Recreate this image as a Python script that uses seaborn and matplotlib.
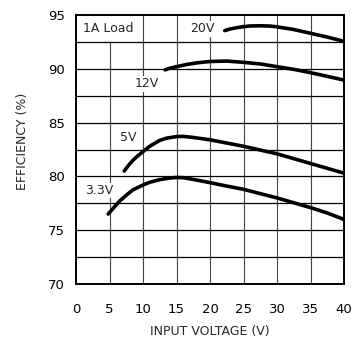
import matplotlib
matplotlib.use("Agg")
import matplotlib.pyplot as plt
import seaborn as sns
import pandas as pd

# curve data (input voltage V, efficiency %)
v33_x = [4.8, 5.5, 6.5, 7.5, 8.5, 10, 11, 12.5, 14, 15, 16, 17.5, 20,
         22.5, 25, 27.5, 30, 32.5, 35, 37.5, 40]
v33_y = [76.5, 77.0, 77.7, 78.25, 78.75, 79.2, 79.45, 79.7, 79.85, 79.9,
         79.88, 79.72, 79.42, 79.1, 78.8, 78.4, 78.0, 77.55, 77.1, 76.6, 76.0]

v5_x = [7.2, 7.8, 8.5, 9.2, 10, 11, 12.5, 13.5, 15, 16, 17.5, 20, 22.5,
        25, 27.5, 30, 32.5, 35, 37.5, 40]
v5_y = [80.5, 81.0, 81.5, 81.9, 82.3, 82.8, 83.35, 83.55, 83.7, 83.72,
        83.62, 83.4, 83.1, 82.8, 82.45, 82.1, 81.65, 81.2, 80.75, 80.3]

v12_x = [13.3, 14, 15, 16.5, 18, 20, 22.5, 25, 27.5, 30, 32.5, 35, 37.5, 40]
v12_y = [89.9, 90.05, 90.2, 90.4, 90.55, 90.68, 90.72, 90.6, 90.45, 90.2,
         89.95, 89.64, 89.3, 88.95]

v20_x = [22.2, 23, 24, 25, 26, 27.5, 29, 30, 32.5, 35, 37.5, 40]
v20_y = [93.55, 93.7, 93.82, 93.92, 93.98, 94.0, 93.97, 93.9, 93.65, 93.3,
         92.95, 92.55]

series = ["3.3V", "5V", "12V", "20V"]
xs = [v33_x, v5_x, v12_x, v20_x]
ys = [v33_y, v5_y, v12_y, v20_y]

x_ticks = [0, 5, 10, 15, 20, 25, 30, 35, 40]
y_ticks = [70, 75, 80, 85, 90, 95]

rows = []
for name, sx, sy in zip(series, xs, ys):
    for a, b in zip(sx, sy):
        rows.append({"vin": a, "eff": b, "series": name})
df = pd.DataFrame(rows)

sns.set_style("white")
plt.rcParams["font.family"] = ["DejaVu Sans"]

fig = plt.figure(figsize=(3.6, 3.38), dpi=100)
ax = fig.add_axes([76 / 360, 54 / 338, 268 / 360, 269 / 338])

# grid: vertical lines every 5 V, horizontal every 2.5 %
for gx in range(5, 40, 5):
    top = 92.5 if gx == 5 else 95
    ax.plot([gx, gx], [70, top], color="#444444", lw=0.8, zorder=1)
for gy in [72.5, 75, 77.5, 80, 82.5, 85, 87.5, 90, 92.5]:
    ax.axhline(gy, color="black", lw=0.9, zorder=1)

sns.lineplot(data=df, x="vin", y="eff", hue="series", units="series",
             estimator=None, sort=True, palette={s: "black" for s in series},
             linewidth=2.6, legend=False, ax=ax, zorder=3)

ax.set_xlim(0, 40)
ax.set_ylim(70, 95)
ax.set_xticks(x_ticks)
ax.set_yticks(y_ticks)
ax.tick_params(length=0, labelsize=9.5, colors="black")
ax.tick_params(axis="x", pad=14)
ax.tick_params(axis="y", pad=8)
for s in ax.spines.values():
    s.set_visible(True)
    s.set_color("black")
    s.set_linewidth(1.4)

box = dict(facecolor="white", edgecolor="none", pad=1.0)
fs = 9
ax.text(1.0, 93.7, "1A Load", fontsize=fs, va="center", ha="left", zorder=2)
ax.text(17.0, 93.7, "20V", fontsize=fs, va="center", ha="left", bbox=box, zorder=2)
ax.text(8.8, 88.6, "12V", fontsize=fs, va="center", ha="left", bbox=box, zorder=2)
ax.text(6.5, 83.6, "5V", fontsize=fs, va="center", ha="left", bbox=box, zorder=2)
ax.text(1.4, 78.7, "3.3V", fontsize=fs, va="center", ha="left", bbox=box, zorder=2)

ax.set_xlabel("")
ax.set_ylabel("")
fig.text(210 / 360, 1 - 331 / 338, "INPUT VOLTAGE (V)", fontsize=fs,
         ha="center", va="center")
fig.text(23 / 360, 1 - 141 / 338, "EFFICIENCY (%)", fontsize=fs,
         ha="center", va="center", rotation=90)

fig.savefig("out.png", dpi=100)
